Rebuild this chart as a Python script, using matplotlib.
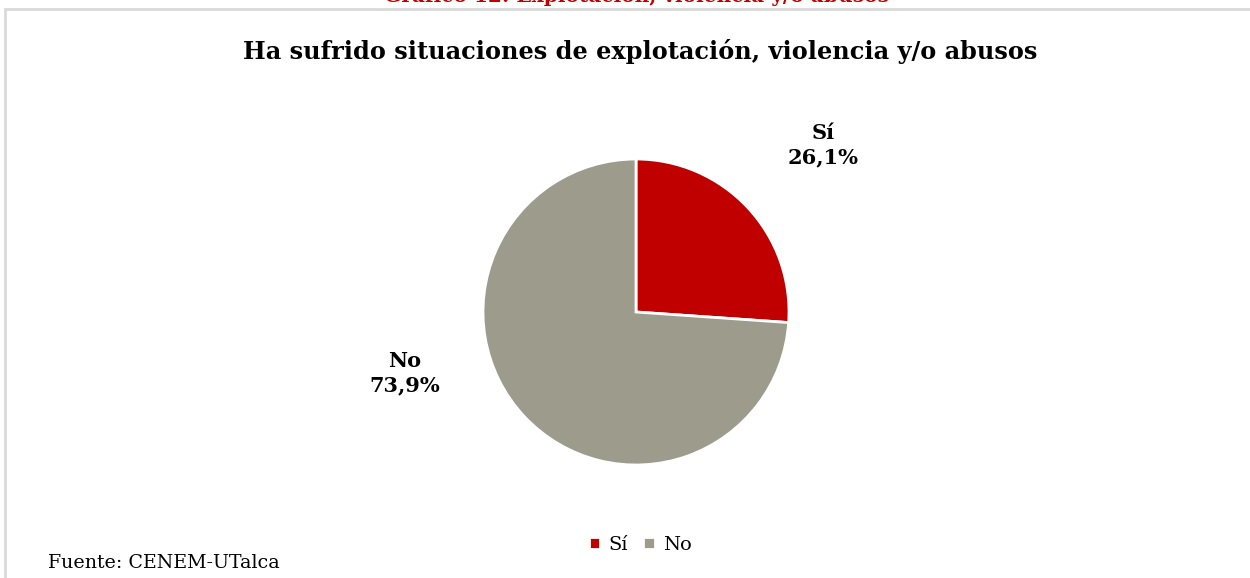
import matplotlib.pyplot as plt
from matplotlib.patches import Rectangle

# Data
categories = ["Sí", "No"]
values = [26.1, 73.9]
colors = ["#C00000", "#9D9B8C"]

title = "Ha sufrido situaciones de explotación, violencia y/o abusos"
caption = "Gráfico 12: Explotación, violencia y/o abusos"
source = "Fuente: CENEM-UTalca"

plt.rcParams["font.family"] = ["DejaVu Serif"]

fig = plt.figure(figsize=(12.5, 5.78), dpi=100)

# chart frame (light grey border, like the office chart area)
fig.patches.append(Rectangle((5 / 1250, -0.05), 1.2, 1 - 9 / 578 + 0.05,
                             transform=fig.transFigure, fill=False,
                             edgecolor="#D9D9D9", linewidth=2))

# pie: centre ~ (636, 312) px, radius ~153 px
r_px = 153
cx, cy = 636, 312
ax = fig.add_axes([(cx - r_px) / 1250, 1 - (cy + r_px) / 578,
                   2 * r_px / 1250, 2 * r_px / 578])
wedges, _ = ax.pie(values, colors=colors, startangle=90, counterclock=False,
                   wedgeprops=dict(edgecolor="white", linewidth=2))
ax.set_xlim(-1, 1)
ax.set_ylim(-1, 1)
ax.set_aspect("equal")

# data labels
label_pos = [(823, 145), (405, 373)]
for cat, val, (x, y) in zip(categories, values, label_pos):
    fig.text(x / 1250, 1 - y / 578, f"{cat}\n{val:.1f}%".replace(".", ","),
             ha="center", va="center", fontsize=15, fontweight="bold",
             linespacing=1.25)

fig.text(640 / 1250, 1 - 52 / 578, title, ha="center", va="center",
         fontsize=17.3, fontweight="bold")
fig.text(636 / 1250, 1 - 2 / 578, caption, ha="center", va="baseline",
         fontsize=14.5, fontweight="bold", color="#C00000")
fig.text(48 / 1250, 1 - 563 / 578, source, ha="left", va="center", fontsize=13.7)

fig.legend(wedges, categories, loc="center", bbox_to_anchor=(640 / 1250, 1 - 545 / 578),
           ncol=2, frameon=False, fontsize=14, handlelength=0.6, handleheight=0.6,
           handletextpad=0.4, columnspacing=0.8)

fig.savefig("out.png", dpi=100, facecolor="white")
